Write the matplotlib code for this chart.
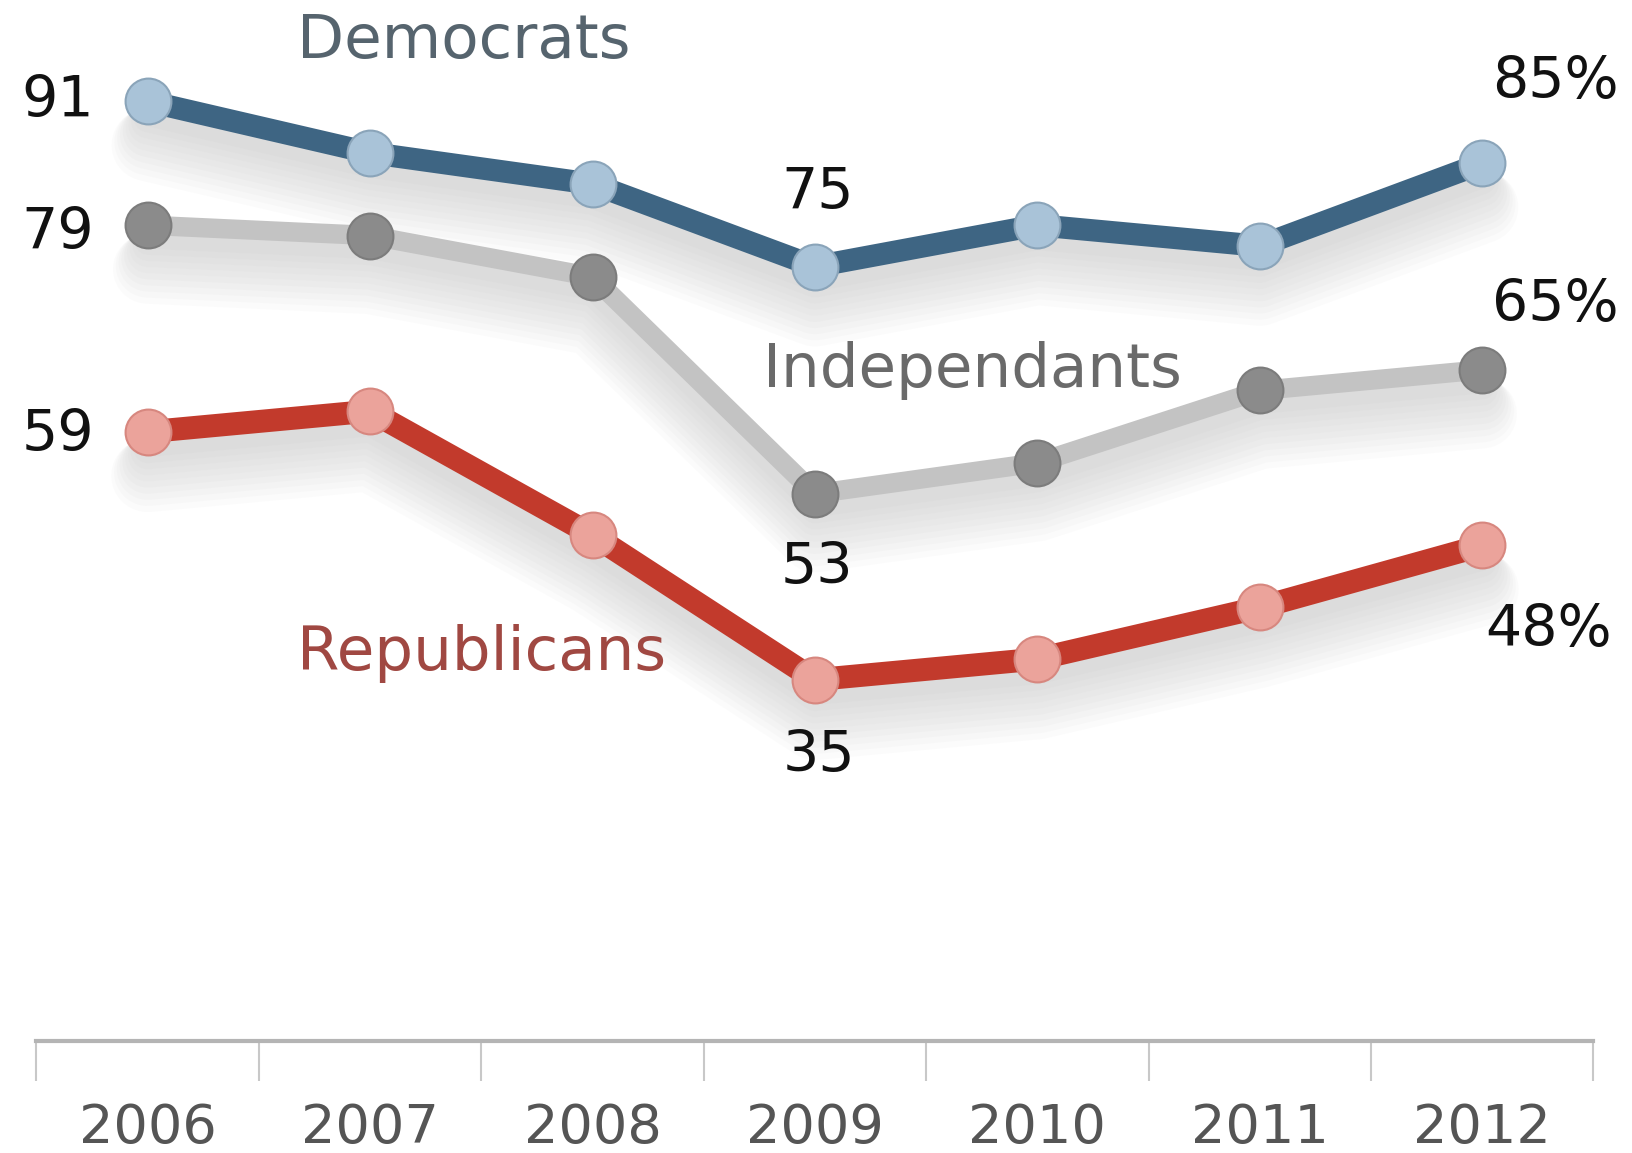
import matplotlib
matplotlib.use("Agg")
import matplotlib.pyplot as plt
from matplotlib import transforms

years = ["2006", "2007", "2008", "2009", "2010", "2011", "2012"]
democrats = [91, 86, 83, 75, 79, 77, 85]
independents = [79, 78, 74, 53, 56, 63, 65]
republicans = [59, 61, 49, 35, 37, 42, 48]

plt.rcParams['font.family'] = ['DejaVu Sans']

fig = plt.figure(figsize=(16.33, 11.53), dpi=100)
ax = fig.add_axes([0.0223, 0.0969, 0.9535, 0.9031])
ax.set_xlim(-0.5, 6.5)
ax.set_ylim(0, 100.8)
x = list(range(len(years)))

def shadow(vals, lw):
    for k in range(10):
        tr = transforms.offset_copy(ax.transData, fig=fig, x=0, y=-(10 + 2.4 * k), units='points')
        ax.plot(x, vals, color='#808080', lw=lw + 4 * k, alpha=0.028,
                solid_capstyle='round', solid_joinstyle='round', transform=tr, zorder=1)

series = [
    (independents, '#c3c3c3', 14, '#8b8b8b', '#7c7c7c'),
    (republicans, '#c23a2c', 16.5, '#eba39b', '#d7877f'),
    (democrats, '#3e6583', 16, '#a9c3d8', '#8aa4b9'),
]
for vals, lc, lw, mf, me in series:
    shadow(vals, lw)
for i, (vals, lc, lw, mf, me) in enumerate(series):
    ax.plot(x, vals, color=lc, lw=lw, solid_joinstyle='round', zorder=3 + i,
            marker='o', markersize=33, markerfacecolor=mf, markeredgecolor=me,
            markeredgewidth=1.5)

fs = 41
lfs = 44
ax.text(-0.24, democrats[0], "91", ha='right', va='center', fontsize=fs, color='#111111', zorder=10)
ax.text(-0.24, independents[0] - 0.8, "79", ha='right', va='center', fontsize=fs, color='#111111', zorder=10)
ax.text(-0.24, republicans[0] - 0.4, "59", ha='right', va='center', fontsize=fs, color='#111111', zorder=10)
ax.text(3.01, democrats[3] + 7.1, "75", ha='center', va='center', fontsize=fs, color='#111111', zorder=10)
ax.text(3.01, independents[3] - 7.2, "53", ha='center', va='center', fontsize=fs, color='#111111', zorder=10)
ax.text(3.02, republicans[3] - 7.4, "35", ha='center', va='center', fontsize=fs, color='#111111', zorder=10)
ax.text(6.33, democrats[6] + 7.8, "85%", ha='center', va='center', fontsize=fs, color='#111111', zorder=10)
ax.text(6.33, independents[6] + 6.2, "65%", ha='center', va='center', fontsize=fs, color='#111111', zorder=10)
ax.text(6.30, republicans[6] - 8.2, "48%", ha='center', va='center', fontsize=fs, color='#111111', zorder=10)

ax.text(1.42, 96.8, "Democrats", ha='center', va='center', fontsize=lfs, color='#56646e', zorder=10)
ax.text(3.71, 64.9, "Independants", ha='center', va='center', fontsize=lfs, color='#6a6a6a', zorder=10)
ax.text(1.50, 37.5, "Republicans", ha='center', va='center', fontsize=lfs, color='#a04842', zorder=10)

for s in ['top', 'right', 'left']:
    ax.spines[s].set_visible(False)
ax.spines['bottom'].set_color('#b4b4b4')
ax.spines['bottom'].set_linewidth(3)
ax.set_yticks([])
ax.set_xticks(x)
ax.set_xticklabels(years, fontsize=39, color='#555555')
ax.tick_params(axis='x', which='major', length=0, pad=44)
ax.set_xticks([i - 0.5 for i in range(len(years) + 1)], minor=True)
ax.tick_params(axis='x', which='minor', length=29, width=1.5, color='#c8c8c8', direction='out')

fig.savefig("out.png", dpi=100)
